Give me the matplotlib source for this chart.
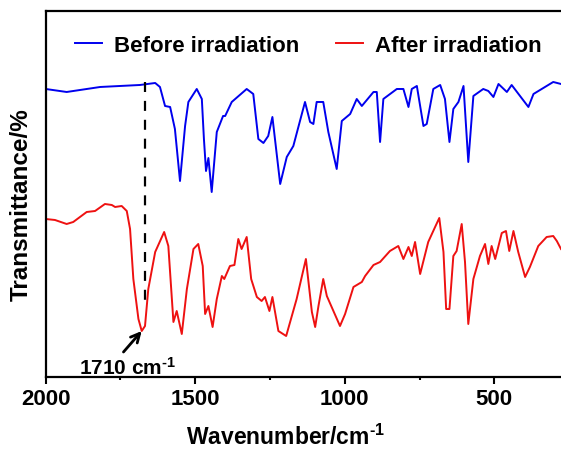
import matplotlib
matplotlib.use('Agg')
import matplotlib.pyplot as plt
from matplotlib.ticker import MultipleLocator

plt.rcParams['font.family'] = ['Liberation Sans', 'DejaVu Sans']
plt.rcParams['font.weight'] = 'bold'
plt.rcParams['mathtext.fontset'] = 'custom'
plt.rcParams['mathtext.rm'] = 'Liberation Sans:bold'
plt.rcParams['mathtext.bf'] = 'Liberation Sans:bold'
plt.rcParams['mathtext.default'] = 'bf'

# spectra (wavenumber in cm-1, offset transmittance in arbitrary units)
wn_before = [2000, 1930, 1818, 1685, 1634, 1618, 1601, 1584, 1568, 1551, 1534, 1523,
             1495, 1478, 1471, 1464, 1456, 1445, 1428, 1407, 1400, 1378, 1328, 1306,
             1289, 1272, 1256, 1242, 1216, 1194, 1172, 1133, 1116, 1105, 1094, 1072,
             1055, 1027, 1010, 982, 960, 943, 904, 893, 882, 871, 826, 804, 787, 776,
             759, 737, 726, 704, 681, 665, 650, 637, 620, 603, 587, 570, 537, 520,
             503, 486, 458, 442, 414, 386, 369, 325, 303, 277]
t_before = [288, 285, 290, 292, 294, 290, 271, 270, 248, 196, 251, 275,
            288, 278, 238, 206, 219, 185, 245, 261, 261, 275, 288, 283,
            238, 234, 241, 260, 193, 220, 231, 275, 255, 253, 275, 275,
            245, 208, 256, 263, 278, 271, 285, 285, 235, 278, 288, 288, 270, 288,
            291, 251, 253, 288, 292, 278, 235, 268, 275, 291, 215, 281, 288, 286,
            280, 293, 285, 292, 281, 270, 283, 291, 295, 293]

wn_after = [2000, 1969, 1930, 1908, 1863, 1835, 1802, 1779, 1768, 1746, 1729, 1718,
            1707, 1690, 1679, 1668, 1657, 1634, 1604, 1590, 1573, 1562, 1545, 1528,
            1506, 1490, 1475, 1467, 1456, 1442, 1428, 1411, 1403, 1384, 1369, 1356,
            1345, 1328, 1313, 1294, 1278, 1267, 1252, 1242, 1222, 1196, 1161, 1130,
            1110, 1099, 1088, 1072, 1060, 1038, 1016, 999, 971, 943, 932, 904, 882,
            849, 821, 804, 787, 776, 765, 748, 721, 698, 684, 670, 661, 650, 637,
            626, 609, 598, 587, 570, 548, 531, 520, 509, 497, 475, 461, 450, 436,
            420, 397, 381, 353, 325, 303, 291, 277]
t_after = [158, 157, 153, 155, 165, 166, 173, 172, 170, 171, 166, 148,
           98, 58, 46, 51, 88, 125, 145, 131, 55, 66, 43, 88,
           128, 133, 111, 63, 71, 50, 78, 101, 98, 111, 112, 138,
           128, 140, 98, 80, 76, 80, 66, 80, 46, 41, 78, 118,
           65, 50, 71, 98, 81, 66, 51, 63, 90, 95, 101, 112, 115,
           126, 131, 118, 130, 121, 135, 103, 135, 150, 159, 125, 68, 68, 121,
           126, 153, 115, 53, 98, 121, 133, 113, 131, 118, 144, 146, 126, 146,
           125, 100, 110, 131, 140, 141, 136, 128]

mark_wn = 1668
mark_top = 295
mark_bottom = 73
arrow_head = (1679, 46)
arrow_tail = (1740, 25)

fig = plt.figure(figsize=(5.61, 4.52), dpi=100)
ax = fig.add_axes([0.0815, 0.1637, 0.9185, 0.8098])

ax.plot(wn_before, t_before, color='#0000ee', lw=1.4, solid_joinstyle='round',
        label='Before irradiation')
ax.plot(wn_after, t_after, color='#ee1111', lw=1.4, solid_joinstyle='round',
        label='After irradiation')
ax.plot([mark_wn, mark_wn], [mark_top, mark_bottom], color='black', lw=1.6,
        dashes=(4.5, 4.0))

ax.annotate('', xy=arrow_head, xytext=arrow_tail,
            arrowprops=dict(arrowstyle='->', color='black', lw=2.0,
                            mutation_scale=16, shrinkA=0, shrinkB=0))
ax.text(1726, 3, '1710 cm$^{\u2010 1}$', fontsize=15, fontweight='bold',
        ha='center', va='baseline')

ax.set_xlim(2000, 277)
ax.set_ylim(0, 366)
ax.xaxis.set_major_locator(MultipleLocator(500))
ax.xaxis.set_minor_locator(MultipleLocator(250))
ax.set_yticks([])
ax.tick_params(axis='x', which='major', length=5, width=1.5, labelsize=16,
               direction='out', pad=3)
ax.tick_params(axis='x', which='minor', length=2.5, width=1.5, direction='out')
for lab in ax.get_xticklabels():
    lab.set_fontweight('bold')

for side in ['left', 'bottom', 'top']:
    ax.spines[side].set_linewidth(1.6)
ax.spines['right'].set_visible(False)

ax.set_xlabel('Wavenumber/cm$^{\u2010 1}$', fontsize=16.5, fontweight='bold')
ax.xaxis.set_label_coords(0.466, -0.128)
ax.set_ylabel('Transmittance/%', fontsize=17.5, fontweight='bold')
ax.yaxis.set_label_coords(-0.026, 0.473)

leg = ax.legend(loc='upper left', ncol=2, frameon=False, fontsize=16,
                bbox_to_anchor=(0.057, 0.935), borderaxespad=0, borderpad=0,
                handlelength=1.2, columnspacing=1.65, handletextpad=0.55)
for t in leg.get_texts():
    t.set_fontweight('bold')

fig.savefig('out.png', dpi=100)
